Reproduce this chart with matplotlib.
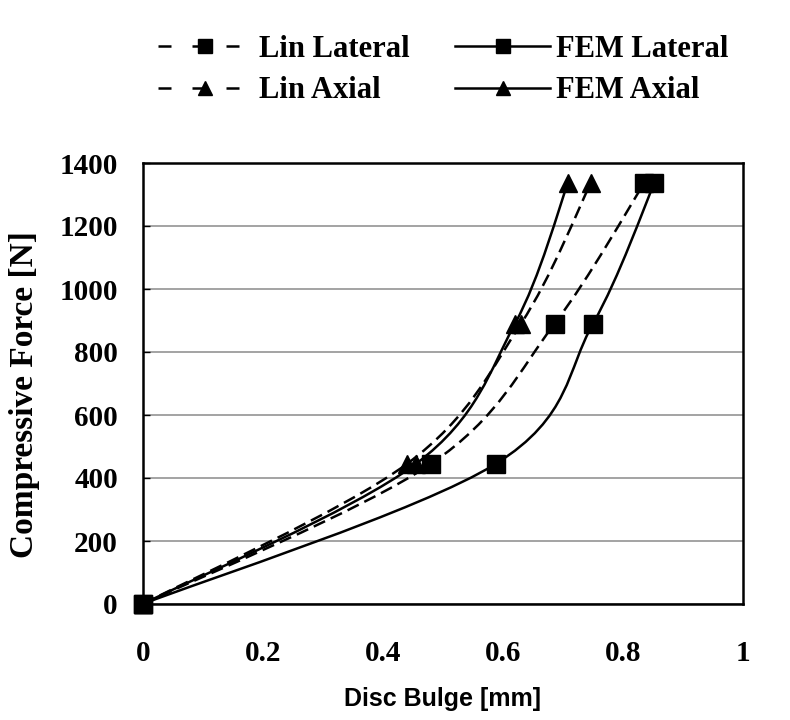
import matplotlib
matplotlib.use("Agg")
import matplotlib.pyplot as plt
from matplotlib.path import Path
from matplotlib.patches import PathPatch
from matplotlib.lines import Line2D
import numpy as np

# ---- data ----
force = [0, 445, 890, 1335]
lin_lateral = [0, 0.48, 0.686, 0.835]
fem_lateral = [0, 0.588, 0.75, 0.852]
lin_axial = [0, 0.44, 0.63, 0.746]
fem_axial = [0, 0.455, 0.62, 0.708]

series = [
    ("Lin Lateral", lin_lateral, "s", "dash"),
    ("Lin Axial", lin_axial, "^", "dash"),
    ("FEM Lateral", fem_lateral, "s", "solid"),
    ("FEM Axial", fem_axial, "^", "solid"),
]
x_ticks = [0, 0.2, 0.4, 0.6, 0.8, 1]
x_tick_labels = ["0", "0.2", "0.4", "0.6", "0.8", "1"]
y_ticks = [0, 200, 400, 600, 800, 1000, 1200, 1400]

SERIF = ["Liberation Serif", "DejaVu Serif"]
SANS = ["Liberation Sans", "DejaVu Sans"]
DASH = (0, (5, 2.5))
LEG_DASH = (0, (5.2, 8.4))
LW = 1.8


def smooth_path(xs, ys):
    """Excel-like smoothed line: cubic Bezier segments (Catmull-Rom tangents)."""
    pts = np.column_stack([xs, ys]).astype(float)
    n = len(pts)
    verts = [pts[0]]
    codes = [Path.MOVETO]
    for i in range(n - 1):
        p0 = pts[i - 1] if i > 0 else pts[i]
        p1 = pts[i]
        p2 = pts[i + 1]
        p3 = pts[i + 2] if i + 2 < n else pts[i + 1]
        c1 = p1 + (p2 - p0) / 6.0
        c2 = p2 - (p3 - p1) / 6.0
        verts += [c1, c2, p2]
        codes += [Path.CURVE4] * 3
    return Path(verts, codes)


fig = plt.figure(figsize=(7.9, 7.2), dpi=100)
ax = fig.add_axes([143 / 790, 1 - 604 / 720, 600 / 790, 441 / 720])

ax.set_xlim(0, 1)
ax.set_ylim(0, 1400)

ax.yaxis.grid(True, color="#8a8a8a", linewidth=1.1)
ax.set_axisbelow(True)

handles = []
for name, xs, mk, style in series:
    ls = DASH if style == "dash" else "solid"
    patch = PathPatch(smooth_path(xs, force), fill=False, edgecolor="black",
                      linewidth=LW, linestyle=ls, zorder=3)
    ax.add_patch(patch)
    ms = 13.5 if mk == "s" else 13
    ax.plot(xs, force, linestyle="none", marker=mk, markersize=ms,
            color="black", zorder=4, clip_on=False)
    hls = LEG_DASH if style == "dash" else "solid"
    handles.append(Line2D([], [], color="black", linewidth=LW,
                          linestyle=hls, marker=mk, markersize=10))

for s in ax.spines.values():
    s.set_linewidth(1.8)
    s.set_color("black")

ax.set_xticks(x_ticks)
ax.set_xticklabels(x_tick_labels)
ax.set_yticks(y_ticks)
ax.tick_params(axis="x", length=0, pad=26)
ax.tick_params(axis="y", direction="in", length=5, width=1, pad=18)
for lab in ax.get_xticklabels() + ax.get_yticklabels():
    lab.set_fontfamily(SERIF)
    lab.set_fontweight("bold")
    lab.set_fontsize(21)

ax.set_xlabel("Disc Bulge [mm]", fontfamily=SANS, fontweight="bold",
              fontsize=18, labelpad=14)
ax.set_ylabel("Compressive Force [N]", fontfamily=SERIF, fontweight="bold",
              fontsize=24)
ax.yaxis.set_label_coords(-0.172, 0.474)

fig.legend(handles, [s[0] for s in series], ncol=2, loc="center",
           bbox_to_anchor=(0.561, 0.9025), frameon=False,
           prop={"family": SERIF, "weight": "bold", "size": 22},
           handlelength=3.1, handletextpad=0.2, columnspacing=1.5,
           labelspacing=0.41)

fig.savefig("out.png", dpi=100)
